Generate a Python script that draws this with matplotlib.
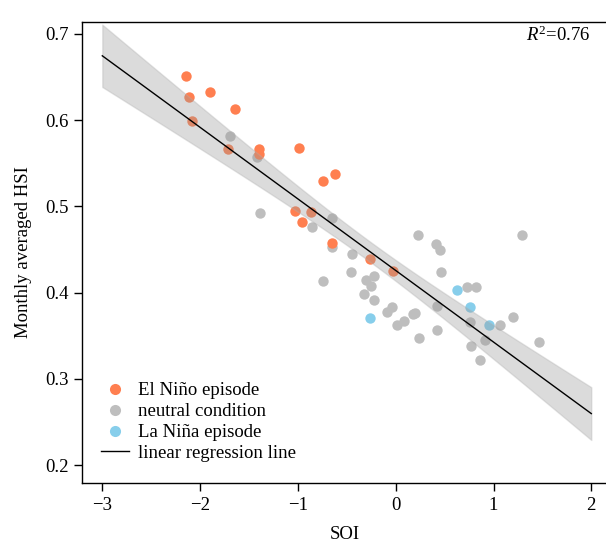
import numpy as np
import matplotlib
matplotlib.use("Agg")
import matplotlib.pyplot as plt
from matplotlib.lines import Line2D

# ---- data ----
elnino_soi = [-2.144, -2.114, -1.902, -1.643, -2.083, -1.712, -1.401, -1.395, -0.992,
              -0.621, -0.743, -1.033, -0.863, -0.955, -0.651, -0.263, -0.031]
elnino_hsi = [0.651, 0.627, 0.632, 0.613, 0.599, 0.567, 0.566, 0.561, 0.568,
              0.538, 0.529, 0.495, 0.493, 0.482, 0.458, 0.439, 0.425]

neutral_soi = [-1.693, -1.415, -1.384, -0.654, -0.853, -0.651, 0.231, 0.409, 0.453, 1.291,
               -0.450, 0.460, -0.740, -0.460, -0.307, -0.219, -0.253, -0.324, -0.219, 0.732,
               0.824, 0.419, -0.038, -0.092, 0.197, 0.174, 0.088, 0.016, 0.763, 1.070,
               1.202, 0.419, 0.241, 0.910, 0.770, 1.462, 0.862]
neutral_hsi = [0.581, 0.557, 0.492, 0.487, 0.476, 0.453, 0.467, 0.456, 0.449, 0.467,
               0.445, 0.424, 0.414, 0.424, 0.415, 0.419, 0.408, 0.399, 0.391, 0.406,
               0.407, 0.385, 0.383, 0.378, 0.376, 0.375, 0.367, 0.362, 0.366, 0.363,
               0.372, 0.357, 0.347, 0.345, 0.338, 0.343, 0.322]

lanina_soi = [0.630, 0.760, -0.263, 0.951]
lanina_hsi = [0.403, 0.383, 0.371, 0.362]

# regression line as drawn in the reference (intercept, slope)
reg_intercept = 0.4257
reg_slope = -0.0829
reg_range = [-3, 2]

x_ticks = [-3, -2, -1, 0, 1, 2]
y_ticks = [0.2, 0.3, 0.4, 0.5, 0.6, 0.7]
r2_label = r"$R^2$=0.76"
t_crit = 2.003  # 95% two-sided t quantile, df = n - 2

# ---- style ----
plt.rcParams['font.family'] = ['Liberation Serif', 'DejaVu Serif']
plt.rcParams['mathtext.fontset'] = 'custom'
plt.rcParams['mathtext.rm'] = 'Liberation Serif'
plt.rcParams['mathtext.it'] = 'Liberation Serif:italic'
FS = 13.5

fig = plt.figure(figsize=(6.06, 5.43), dpi=100)
ax_left, ax_right, ax_bottom, ax_top = 82.3, 608.0, 482.7, 22.0
ax = fig.add_axes([ax_left / 606, 1 - ax_bottom / 543,
                   (ax_right - ax_left) / 606, (ax_bottom - ax_top) / 543])

c_el, c_ne, c_la = '#FF7F50', '#BEBEBE', '#87CEEB'
ms = 56
ax.scatter(neutral_soi, neutral_hsi, s=ms, color=c_ne, linewidths=0, zorder=2)
ax.scatter(elnino_soi, elnino_hsi, s=ms, color=c_el, linewidths=0, zorder=2)
ax.scatter(lanina_soi, lanina_hsi, s=ms, color=c_la, linewidths=0, zorder=2)

# confidence band of the regression (spread of all points)
x_all = np.array(elnino_soi + neutral_soi + lanina_soi)
y_all = np.array(elnino_hsi + neutral_hsi + lanina_hsi)
n = len(x_all)
resid = y_all - (reg_slope * x_all + reg_intercept)
s_err = np.sqrt(np.sum(resid ** 2) / (n - 2))
xm = x_all.mean()
sxx = np.sum((x_all - xm) ** 2)
xs = np.linspace(reg_range[0], reg_range[1], 200)
ys = reg_slope * xs + reg_intercept
half = t_crit * s_err * np.sqrt(1.0 / n + (xs - xm) ** 2 / sxx)

ax.fill_between(xs, ys - half, ys + half, facecolor='#999999', alpha=0.35,
                edgecolor='#B0B0B0', linewidth=1.0, zorder=3)
ax.plot(xs, ys, color='black', lw=1.0, zorder=4)

ax.set_xlim((82.3 - 395.7) / 97.8, (608 - 395.7) / 97.8)
ax.set_ylim(0.7 - (482.7 - 33.7) / 863.2, 0.7 + (33.7 - 22) / 863.2)
ax.set_xticks(x_ticks)
ax.set_xticklabels(['\u2212' + str(-v) if v < 0 else str(v) for v in x_ticks])
ax.set_yticks(y_ticks)
ax.set_yticklabels([f'{v:.1f}' for v in y_ticks])
ax.tick_params(direction='out', length=6, width=1, labelsize=FS, color='black', pad=4)
for sp in ax.spines.values():
    sp.set_linewidth(1.0)

ax.set_xlabel('SOI', fontsize=FS, labelpad=9)
ax.set_ylabel('Monthly averaged HSI', fontsize=FS, labelpad=9)

ax.text((591 - ax_left) / (ax_right - ax_left), (ax_bottom - 35) / (ax_bottom - ax_top), r2_label,
        transform=ax.transAxes, ha='right', va='center', fontsize=FS)

handles = [
    Line2D([], [], marker='o', ls='none', color=c_el, markersize=8, markeredgewidth=0),
    Line2D([], [], marker='o', ls='none', color=c_ne, markersize=8, markeredgewidth=0),
    Line2D([], [], marker='o', ls='none', color=c_la, markersize=8, markeredgewidth=0),
    Line2D([], [], color='black', lw=1.0),
]
labels = ['El Niño episode', 'neutral condition', 'La Niña episode', 'linear regression line']
ax.legend(handles, labels, loc='lower left',
          bbox_to_anchor=((101 - ax_left) / (ax_right - ax_left), (ax_bottom - 462) / (ax_bottom - ax_top)),
          frameon=False, fontsize=FS, handlelength=1.5, handletextpad=0.48,
          labelspacing=0.2, borderaxespad=0, borderpad=0)

fig.savefig('out.png', dpi=100)
